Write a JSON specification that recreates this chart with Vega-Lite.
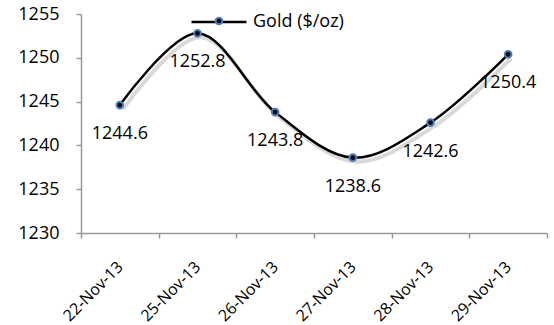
{
  "$schema": "https://vega.github.io/schema/vega-lite/v6.json",
  "autosize": {"type": "none"},
  "width": 466,
  "height": 219,
  "padding": {"left": 81, "top": 14, "right": 7, "bottom": 92},
  "background": "white",
  "config": {
    "font": "Open Sans",
    "view": {"stroke": null},
    "axis": {"grid": false, "domainColor": "#9a9a9a", "domainWidth": 1.5, "tickColor": "#9a9a9a", "tickWidth": 1.5, "labelColor": "#000000", "labelFont": "Open Sans", "title": null}
  },
  "data": {
    "values": [
      {"date": "22-Nov-13", "price": 1244.6, "series": "Gold ($/oz)"},
      {"date": "25-Nov-13", "price": 1252.8, "series": "Gold ($/oz)"},
      {"date": "26-Nov-13", "price": 1243.8, "series": "Gold ($/oz)"},
      {"date": "27-Nov-13", "price": 1238.6, "series": "Gold ($/oz)"},
      {"date": "28-Nov-13", "price": 1242.6, "series": "Gold ($/oz)"},
      {"date": "29-Nov-13", "price": 1250.4, "series": "Gold ($/oz)"}
    ]
  },
  "encoding": {
    "x": {
      "field": "date", "type": "ordinal", "sort": null, "bandPosition": 0.5,
      "scale": {"type": "band", "paddingInner": 0, "paddingOuter": 0},
      "axis": {"labelAngle": -45, "labelAlign": "right", "labelBaseline": "middle", "labelFontSize": 16, "tickBand": "extent", "tickSize": 5, "labelPadding": 26}
    },
    "y": {
      "field": "price", "type": "quantitative",
      "scale": {"domain": [1230, 1255], "nice": false, "zero": false},
      "axis": {"values": [1230, 1235, 1240, 1245, 1250, 1255], "format": "d", "labelFontSize": 18, "tickSize": 5, "labelPadding": 17}
    }
  },
  "layer": [
    {
      "mark": {"type": "line", "interpolate": "catmull-rom", "color": "#808080", "opacity": 0.3, "strokeWidth": 4, "xOffset": 3, "yOffset": 4}
    },
    {
      "mark": {"type": "line", "interpolate": "catmull-rom", "strokeWidth": 2.5},
      "encoding": {
        "stroke": {
          "field": "series", "type": "nominal",
          "scale": {"range": ["#000000"]},
          "legend": {"orient": "none", "legendX": 109, "legendY": -21, "title": null, "symbolType": "stroke", "symbolSize": 3025, "symbolStrokeWidth": 2.5, "labelFontSize": 18, "labelColor": "#000000", "labelOffset": 5, "padding": 0}
        }
      }
    },
    {
      "mark": {"type": "circle", "size": 45, "stroke": "#4a7ebb", "strokeWidth": 2, "opacity": 1},
      "encoding": {
        "fill": {
          "field": "series", "type": "nominal",
          "scale": {"domain": ["Gold ($/oz)"], "range": ["#000000"]},
          "legend": {"orient": "none", "legendX": 133, "legendY": 2, "title": null, "symbolType": "circle", "symbolSize": 45, "symbolStrokeColor": "#4a7ebb", "symbolStrokeWidth": 2, "labelExpr": "''", "padding": 0}
        }
      }
    },
    {
      "mark": {"type": "text", "dy": 29, "fontSize": 18, "color": "#000000"},
      "encoding": {"text": {"field": "price", "type": "quantitative", "format": ".1f"}}
    }
  ]
}
